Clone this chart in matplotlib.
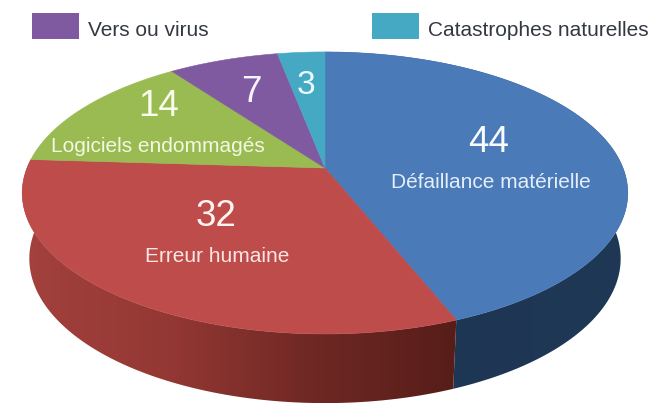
import numpy as np
import matplotlib
matplotlib.use("Agg")
import matplotlib.pyplot as plt
from matplotlib.colors import LinearSegmentedColormap
from matplotlib.patches import Polygon, Rectangle

plt.rcParams['font.family'] = ['Liberation Sans', 'DejaVu Sans']

categories = ["Défaillance matérielle", "Erreur humaine", "Logiciels endommagés", "Vers ou virus", "Catastrophes naturelles"]
values = [44, 32, 14, 7, 3]
face_colors = ["#4a7ab8", "#bd4c4a", "#9aba52", "#7f5aa0", "#45a9c4"]
legend_names = ["Vers ou virus", "Catastrophes naturelles"]
legend_colors = ["#7f5aa0", "#45a9c4"]

W, H = 651, 403
fig = plt.figure(figsize=(W / 100, H / 100), dpi=100, facecolor="white")
ax = fig.add_axes([0, 0, 1, 1])

CX = 325
K = 0.177


def project(theta, cy, a, b):
    x, y = np.sin(theta), np.cos(theta)
    d = 1 + K * y
    return CX + a * x / d, cy - b * y / d


TOP = (168, 298, 136.6)
BOT = (233, 291, 140)

fractions = np.cumsum([0] + values) / sum(values) * 2 * np.pi


def side(start, stop, cmap_colors, extent):
    th = np.linspace(start, stop, 200)
    xt, yt = project(th, *TOP)
    xb, yb = project(th, *BOT)
    pts = np.column_stack([np.r_[xt, xb[::-1]], np.r_[yt, yb[::-1]]])
    cmap = LinearSegmentedColormap.from_list("side", cmap_colors)
    im = ax.imshow(np.linspace(0, 1, 256)[None, :], cmap=cmap, extent=extent,
                   aspect="auto", zorder=1)
    poly = Polygon(pts, closed=True, transform=ax.transData, fc="none", ec="none")
    ax.add_patch(poly)
    im.set_clip_path(poly)


side(fractions[0], fractions[1], ["#1d3552", "#1f3855"], (320, 640, H, 0))
side(fractions[1], fractions[2], ["#a3413d", "#943834", "#6f2824", "#561d19"],
     (20, 460, H, 0))

for i, colour in enumerate(face_colors):
    th = np.linspace(fractions[i], fractions[i + 1], 200)
    xs, ys = project(th, *TOP)
    ax.fill(np.r_[CX, xs], np.r_[TOP[0], ys], fc=colour, ec=colour, lw=0.4, zorder=2)

# value and category labels
value_pos = [(489, 143), (216, 216), (159, 106), (251, 92), (306, 86)]
label_pos = [(491, 183), (217, 257), (158, 147), None, None]
value_size = [26.5, 26.5, 26.5, 26.5, 24]
label_colors = ["#e4eefa", "#fbe6e4", "#f2f8e2", None, None]
value_colors = ["#f8fbff", "#fff4f2", "#f8fcec", "#f8f2fc", "#e8fbff"]
for i, (name, val) in enumerate(zip(categories, values)):
    ax.text(*value_pos[i], str(val), color=value_colors[i], fontsize=value_size[i],
            ha="center", va="center", zorder=3)
    if label_pos[i] is not None:
        ax.text(*label_pos[i], name, color=label_colors[i], fontsize=15,
                ha="center", va="center", zorder=3)

# legend, cropped to its last row as in the source
for x0, name, colour in zip((32, 372), legend_names, legend_colors):
    ax.add_patch(Rectangle((x0, 13), 47, 26, fc=colour, ec="none", zorder=2))
    ax.text(x0 + 56, 31, name, color="#333842", fontsize=15, ha="left", va="center", zorder=3)

ax.set_xlim(0, W)
ax.set_ylim(H, 0)
ax.axis("off")
fig.savefig("out.png", dpi=100, facecolor="white")
